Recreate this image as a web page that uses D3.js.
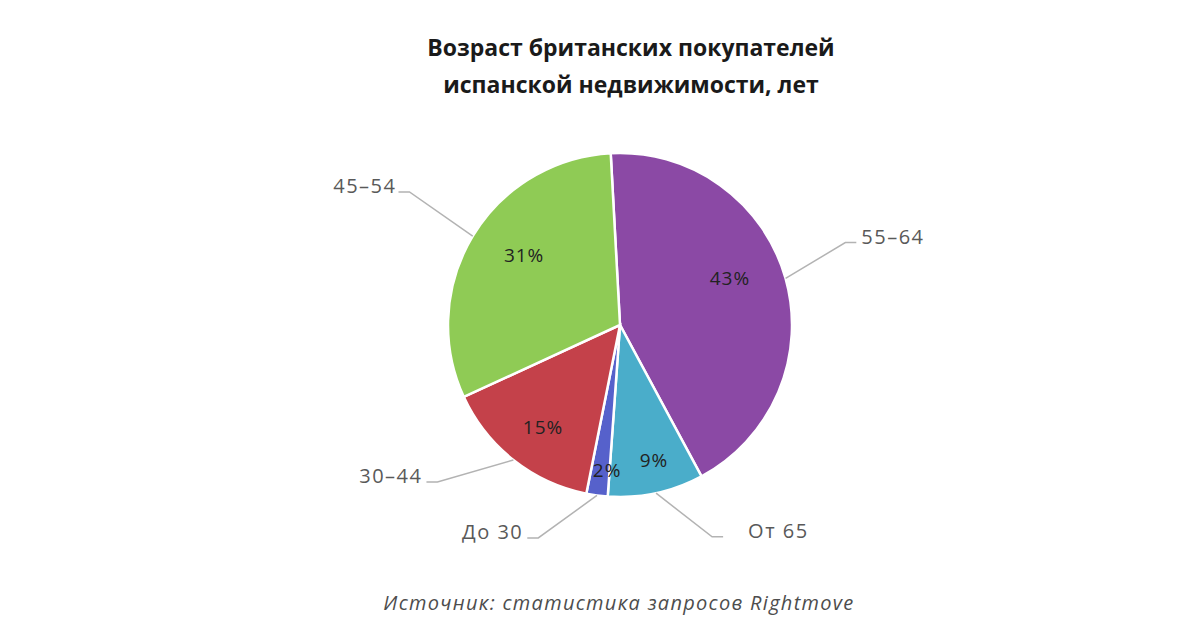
<!DOCTYPE html>
<html><head><meta charset="UTF-8">
<script src="https://d3js.org/d3.v7.min.js"></script>
<style>
  body { margin: 0; background: #fff; }
  svg text { font-family: "Open Sans", "Noto Sans", sans-serif; }
</style>
</head>
<body>
<svg id="chart" width="1200" height="625"></svg>
<script>
"use strict";
// Data
const groups = ["55–64", "От 65", "До 30", "30–44", "45–54"];
const shares = [43, 9, 2, 15, 31];
const colors = ["#8b49a5", "#4aadca", "#5661cb", "#c4414a", "#8fcb55"];

const titleLines = ["Возраст британских покупателей", "испанской недвижимости, лет"];
const sourceText = "Источник: статистика запросов Rightmove";

// Layout
const cx = 620, cy = 325, radius = 172;
const startAngle = -3.1 * Math.PI / 180;
// label elbow placement (degrees nudge from slice middle, radius factor), text gap
const elbowNudge = [-4.4, -11.4, 13.3, 11, 1.2];
const elbowRadius = [1.395, 1.343, 1.326, 1.40, 1.448];
const textGap = [5, 25, 5, 5, 3];
// percent label placement inside slices
const pctNudge = [-7.4, -2, -2.6, -1.3, 5];
const pctRadius = [0.695, 0.81, 0.847, 0.743, 0.69];

const svg = d3.select("#chart");
const rows = groups.map((g, i) => ({
  group: g, share: shares[i], color: colors[i],
  nudge: elbowNudge[i], er: elbowRadius[i], gap: textGap[i],
  pn: pctNudge[i], pr: pctRadius[i]
}));

const pie = d3.pie().sort(null).value(d => d.share)
    .startAngle(startAngle).endAngle(startAngle + 2 * Math.PI);
const arcs = pie(rows);

const arc = d3.arc().innerRadius(0).outerRadius(radius);
const edgeArc = d3.arc().innerRadius(radius).outerRadius(radius);
const g = svg.append("g").attr("transform", `translate(${cx},${cy})`);

// slices
g.selectAll("path.slice").data(arcs).join("path")
    .attr("class", "slice")
    .attr("d", arc)
    .attr("fill", d => d.data.color)
    .attr("stroke", "#fff")
    .attr("stroke-width", 2.5);

const deg = Math.PI / 180;
const midAngle = d => (d.startAngle + d.endAngle) / 2;
function polar(a, r) { return [r * Math.sin(a), -r * Math.cos(a)]; }

// leader lines + group labels
arcs.forEach(d => {
  const a = midAngle(d) + d.data.nudge * deg;
  const p0 = edgeArc.centroid(d);
  const p1 = polar(a, radius * d.data.er);
  const right = Math.sin(a) > 0;
  const p2 = [p1[0] + (right ? 11 : -11), p1[1]];
  g.append("polyline")
      .attr("points", [p0, p1, p2].map(p => p.join(",")).join(" "))
      .attr("fill", "none")
      .attr("stroke", "#b3b3b3")
      .attr("stroke-width", 1.5);
  g.append("text")
      .attr("x", p2[0] + (right ? d.data.gap : -d.data.gap + 1))
      .attr("y", p2[1] + 1)
      .attr("text-anchor", right ? "start" : "end")
      .style("font-size", "20px")
      .style("letter-spacing", "1.5px")
      .style("fill", "#595959")
      .text(d.data.group);
});

// percent labels inside slices
g.selectAll("text.pct").data(arcs).join("text")
    .attr("class", "pct")
    .attr("transform", d => `translate(${polar(midAngle(d) + d.data.pn * deg, radius * d.data.pr)})`)
    .attr("text-anchor", "middle")
    .attr("dy", "0.35em")
    .style("font-size", "19px")
    .style("letter-spacing", "1px")
    .style("fill", "#222")
    .text(d => d.data.share + "%");

// title
svg.append("text")
    .attr("text-anchor", "middle")
    .attr("y", 48)
    .selectAll("tspan").data(titleLines).join("tspan")
    .attr("x", 631)
    .attr("dy", (d, i) => i === 0 ? "0.35em" : "37px")
    .style("font-size", "23px")
    .style("font-weight", "bold")
    .style("fill", "#1a1a1a")
    .text(d => d);

// source
svg.append("text")
    .attr("x", 619).attr("y", 603)
    .attr("dy", "0.35em")
    .attr("text-anchor", "middle")
    .style("font-size", "20px")
    .style("font-style", "italic")
    .style("letter-spacing", "1.3px")
    .style("fill", "#4d4d4d")
    .text(sourceText);
</script>
</body>
</html>
